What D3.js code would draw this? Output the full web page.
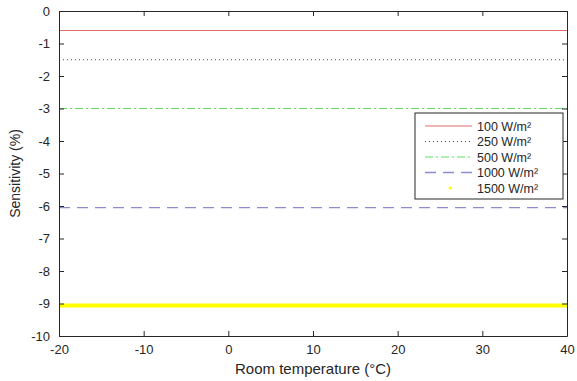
<!DOCTYPE html>
<html>
<head>
<meta charset="utf-8">
<script src="https://cdn.jsdelivr.net/npm/d3@7"></script>
<style>
  body { margin: 0; background: #fff; }
  text { font-family: "Liberation Sans", Arial, sans-serif; }
</style>
</head>
<body>
<svg id="chart" width="577" height="381"></svg>
<script>
// Room temperature range (°C)
const temps = [-20, 40];
// Irradiance levels and their sensitivity (%), constant over temperature
const seriesNames = ["100 W/m²", "250 W/m²", "500 W/m²", "1000 W/m²", "1500 W/m²"];
const sensitivity = [-0.6, -1.5, -3.0, -6.05, -9.06];
const xTicks = [-20, -10, 0, 10, 20, 30, 40];
const yTicks = [0, -1, -2, -3, -4, -5, -6, -7, -8, -9, -10];

const styles = [
  { color: "#e06a6a", width: 1, dash: null },
  { color: "#44449a", width: 1, dash: "1,3" },
  { color: "#5ee05e", width: 1, dash: "8,3,2,3" },
  { color: "#8c8cd0", width: 1.3, dash: "11,7" },
  { color: "#ffff00", width: 4, dash: null, marker: true }
];

const svg = d3.select("#chart");
const m = { left: 59, right: 10, top: 11, bottom: 45 };
const W = 577, H = 381;
const x = d3.scaleLinear().domain([-20, 40]).range([m.left, W - m.right]);
const y = d3.scaleLinear().domain([-10, 0]).range([H - m.bottom, m.top]);

const axisColor = "#262626";
const fmt = d => String(d); // plain hyphen for negatives

// Series lines
const line = d3.line().x(d => x(d[0])).y(d => y(d[1]));
sensitivity.forEach((v, i) => {
  const s = styles[i];
  svg.append("path")
    .datum(temps.map(t => [t, v]))
    .attr("d", line)
    .attr("fill", "none")
    .attr("stroke", s.color)
    .attr("stroke-width", s.width)
    .attr("stroke-dasharray", s.dash);
});

// Axes with inward ticks, mirrored on top and right
function styleAxis(g) {
  g.selectAll("path").attr("stroke", axisColor);
  g.selectAll("line").attr("stroke", axisColor);
  g.selectAll("text").attr("fill", axisColor).style("font-size", "13px");
}
svg.append("g").attr("transform", `translate(0,${H - m.bottom})`)
  .call(d3.axisBottom(x).tickValues(xTicks).tickFormat(fmt).tickSizeInner(-5).tickSizeOuter(0).tickPadding(9))
  .call(styleAxis);
svg.append("g").attr("transform", `translate(${m.left},0)`)
  .call(d3.axisLeft(y).tickValues(yTicks).tickFormat(fmt).tickSizeInner(-5).tickSizeOuter(0).tickPadding(9))
  .call(styleAxis);
svg.append("g").attr("transform", `translate(0,${m.top})`)
  .call(d3.axisTop(x).tickValues(xTicks).tickSizeInner(-5).tickSizeOuter(0).tickFormat(""))
  .call(styleAxis);
svg.append("g").attr("transform", `translate(${W - m.right},0)`)
  .call(d3.axisRight(y).tickValues(yTicks).tickSizeInner(-5).tickSizeOuter(0).tickFormat(""))
  .call(styleAxis);

// Axis titles
svg.append("text")
  .attr("x", (x(-20) + x(40)) / 2).attr("y", 374)
  .attr("text-anchor", "middle").attr("fill", axisColor)
  .style("font-size", "15px")
  .text("Room temperature (°C)");
svg.append("text")
  .attr("transform", `translate(20,${(y(0) + y(-10)) / 2}) rotate(-90)`)
  .attr("text-anchor", "middle").attr("fill", axisColor)
  .style("font-size", "14px")
  .text("Sensitivity (%)");

// Legend
const lg = svg.append("g").attr("transform", "translate(415,113)");
lg.append("rect").attr("width", 148).attr("height", 86)
  .attr("fill", "#fff").attr("stroke", axisColor).attr("stroke-width", 1);
seriesNames.forEach((name, i) => {
  const s = styles[i];
  const ry = 13 + i * 15.5;
  if (s.marker) {
    lg.append("circle").attr("cx", 35).attr("cy", ry).attr("r", 1.5).attr("fill", s.color);
  } else {
    lg.append("line").attr("x1", 10).attr("x2", 57).attr("y1", ry).attr("y2", ry)
      .attr("stroke", s.color).attr("stroke-width", s.width)
      .attr("stroke-dasharray", s.dash);
  }
  lg.append("text").attr("x", 62).attr("y", ry + 4.5)
    .attr("fill", axisColor).style("font-size", "12.5px")
    .text(name);
});
</script>
</body>
</html>
